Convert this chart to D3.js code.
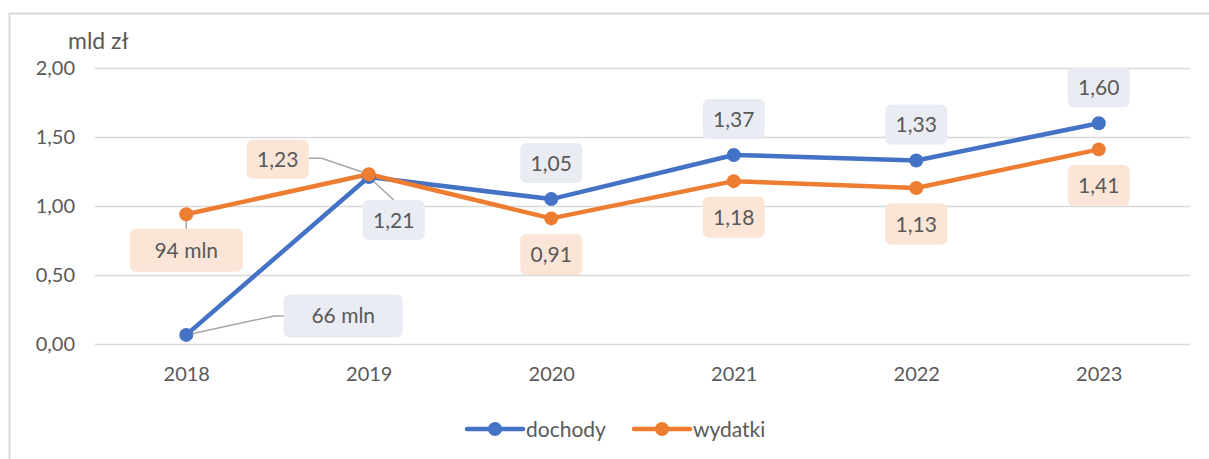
<!DOCTYPE html>
<html>
<head>
<meta charset="utf-8">
<script src="https://cdn.jsdelivr.net/npm/d3@7"></script>
<style>
  html, body { margin: 0; padding: 0; background: #fff; }
  svg { display: block; }
</style>
</head>
<body>
<svg id="chart" width="1209" height="459"></svg>
<script>
const years = ["2018", "2019", "2020", "2021", "2022", "2023"];
const dochody = [0.066, 1.21, 1.05, 1.37, 1.33, 1.60];
const wydatki = [0.94, 1.23, 0.91, 1.18, 1.13, 1.41];
const dochodyLabels = ["66 mln", "1,21", "1,05", "1,37", "1,33", "1,60"];
const wydatkiLabels = ["94 mln", "1,23", "0,91", "1,18", "1,13", "1,41"];
const yTicks = [0, 0.5, 1, 1.5, 2];
const seriesNames = ["dochody", "wydatki"];

(function () {
  const svg = d3.select("#chart");
  const width = 1209, height = 459;
  const margin = { top: 68, right: 19, bottom: 115, left: 95 };
  const font = "Lato, 'Open Sans', sans-serif";
  const textColor = "#595959";

  // outer chart frame (bleeds off right and bottom like the screenshot)
  svg.append("rect")
    .attr("x", 9.5).attr("y", 13.5)
    .attr("width", width).attr("height", height)
    .attr("fill", "none").attr("stroke", "#d9d9d9").attr("stroke-width", 2);

  const x = d3.scalePoint()
    .domain(years)
    .range([margin.left, width - margin.right])
    .padding(0.5);

  const y = d3.scaleLinear()
    .domain([0, 2])
    .range([344, 68]);

  // gridlines + y axis labels
  const yAxis = d3.axisLeft(y)
    .tickValues(yTicks)
    .tickSize(-(width - margin.right - margin.left))
    .tickFormat(d => d3.format(".2f")(d).replace(".", ","));

  const gy = svg.append("g")
    .attr("transform", `translate(${margin.left},0)`)
    .call(yAxis);
  gy.select(".domain").remove();
  gy.selectAll(".tick line").attr("stroke", "#d9d9d9").attr("stroke-width", 1.5);
  gy.selectAll(".tick text")
    .attr("x", -20)
    .attr("fill", textColor)
    .style("font-family", font)
    .style("font-size", "20px");

  // x axis labels
  const xAxis = d3.axisBottom(x).tickSize(0).tickPadding(23);
  const gx = svg.append("g")
    .attr("transform", "translate(0,344)")
    .call(xAxis);
  gx.select(".domain").remove();
  gx.selectAll(".tick text")
    .attr("fill", textColor)
    .style("font-family", font)
    .style("font-size", "20px");

  // unit label
  svg.append("text")
    .attr("x", 68).attr("y", 49)
    .attr("fill", textColor)
    .style("font-family", font)
    .style("font-size", "23px")
    .text("mld zł");

  const colors = { dochody: "#4472c4", wydatki: "#ed7d31" };
  const boxFill = { dochody: "#e9ecf2", wydatki: "#fbe5d6" };

  const line = d3.line()
    .x((d, i) => x(years[i]))
    .y(d => y(d));

  const series = [
    { name: "dochody", values: dochody, labels: dochodyLabels },
    { name: "wydatki", values: wydatki, labels: wydatkiLabels }
  ];

  // leader lines (drawn under everything)
  const leaderG = svg.append("g");

  series.forEach(s => {
    svg.append("path")
      .datum(s.values)
      .attr("d", line)
      .attr("fill", "none")
      .attr("stroke", colors[s.name])
      .attr("stroke-width", 4.5)
      .attr("stroke-linejoin", "round");
  });

  series.forEach(s => {
    svg.append("g").selectAll("circle")
      .data(s.values)
      .enter().append("circle")
      .attr("cx", (d, i) => x(years[i]))
      .attr("cy", d => y(d))
      .attr("r", 7)
      .attr("fill", colors[s.name]);
  });

  // label placement: offsets from the data point (box centre)
  function placement(name, i) {
    if (name === "dochody" && i === 0) return { dx: 157, dy: -19, w: 119, h: 43, leader: [[0, 0], [88, -19], [98, -19]] };
    if (name === "wydatki" && i === 0) return { dx: 0, dy: 36, w: 113, h: 43, leader: [[0, 0], [0, 15]] };
    if (name === "wydatki" && i === 1) return { dx: -91, dy: -15, w: 62, h: 39, leader: [[0, 0], [-47, -16], [-60, -16]] };
    if (name === "dochody" && i === 1) return { dx: 25, dy: 43, w: 62, h: 40, leader: [[0, 0], [25, 23]] };
    if (name === "dochody") return { dx: 0, dy: -36, w: 62, h: 40 };
    return { dx: 0, dy: 36, w: 62, h: 41 };
  }

  series.forEach(s => {
    s.values.forEach((v, i) => {
      const px = x(years[i]), py = y(v);
      const p = placement(s.name, i);
      if (p.leader) {
        const pts = p.leader.map(d => [px + d[0], py + d[1]]);
        leaderG.append("path")
          .attr("d", d3.line()(pts))
          .attr("fill", "none")
          .attr("stroke", "#a6a6a6")
          .attr("stroke-width", 1.5);
      }
      const cx = px + p.dx, cy = py + p.dy;
      svg.append("rect")
        .attr("x", cx - p.w / 2).attr("y", cy - p.h / 2)
        .attr("width", p.w).attr("height", p.h)
        .attr("rx", 6)
        .attr("fill", boxFill[s.name]);
      svg.append("text")
        .attr("x", cx).attr("y", cy)
        .attr("dy", "0.36em")
        .attr("text-anchor", "middle")
        .attr("fill", textColor)
        .style("font-family", font)
        .style("font-size", "21px")
        .text(s.labels[i]);
    });
  });

  // legend
  const legendX = [467, 634];
  const legend = svg.append("g").attr("transform", "translate(0,429)");
  seriesNames.forEach((name, i) => {
    const g = legend.append("g").attr("transform", `translate(${legendX[i]},0)`);
    g.append("line")
      .attr("x1", 0).attr("x2", 56)
      .attr("stroke", colors[name]).attr("stroke-width", 4.5)
      .attr("stroke-linecap", "round");
    g.append("circle").attr("cx", 28).attr("r", 7).attr("fill", colors[name]);
    g.append("text")
      .attr("x", 59).attr("dy", "0.36em")
      .attr("fill", textColor)
      .style("font-family", font)
      .style("font-size", "21px")
      .text(name);
  });
})();
</script>
</body>
</html>
